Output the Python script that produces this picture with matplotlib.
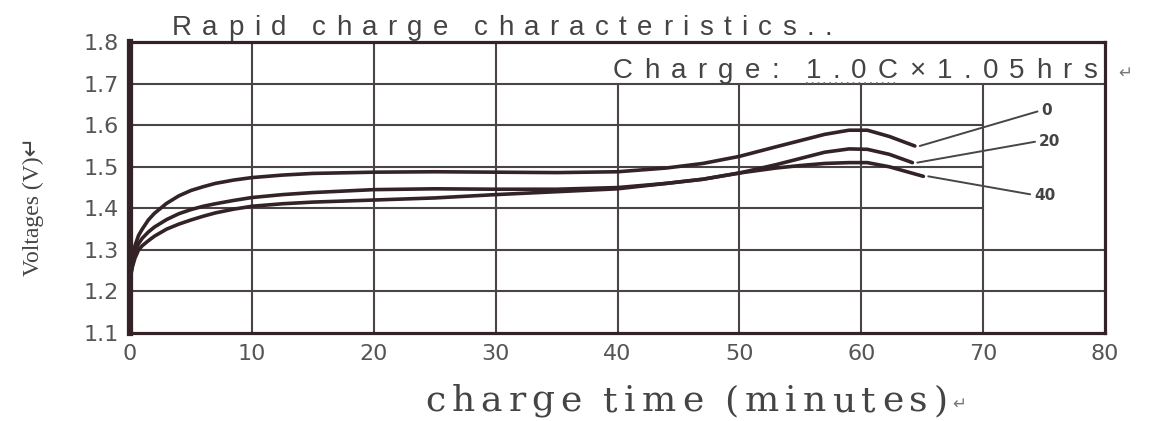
import numpy as np
import matplotlib
matplotlib.use('Agg')
import matplotlib.pyplot as plt
from matplotlib.lines import Line2D
from matplotlib.transforms import IdentityTransform

# Data (charge time in minutes, voltage in V)
time_0 = [0, 0.2, 0.4, 0.7, 1.0, 1.5, 2, 3, 4, 5, 6, 7, 8.5, 10, 12.5, 15, 20, 25, 30, 35, 40,
          44, 47, 50, 53, 55, 57, 59, 60.5, 62.3, 64.4]
volt_0 = [1.22, 1.27, 1.31, 1.335, 1.35, 1.372, 1.388, 1.412, 1.43, 1.443, 1.452, 1.46, 1.468, 1.474,
          1.48, 1.484, 1.487, 1.488, 1.487, 1.486, 1.488,
          1.497, 1.508, 1.525, 1.548, 1.563, 1.578, 1.588, 1.588, 1.573, 1.55]
time_20 = [0, 0.2, 0.4, 0.7, 1.0, 1.5, 2, 3, 4, 5, 6, 7, 8.5, 10, 12.5, 15, 20, 25, 30, 35, 40,
           44, 47, 50, 53, 55, 57, 59, 60.5, 62.3, 64.2]
volt_20 = [1.23, 1.265, 1.295, 1.315, 1.328, 1.343, 1.355, 1.373, 1.387, 1.397, 1.405, 1.411, 1.419,
           1.426, 1.433, 1.438, 1.445, 1.447, 1.446, 1.446, 1.45,
           1.46, 1.47, 1.485, 1.505, 1.52, 1.535, 1.543, 1.542, 1.53, 1.51]
time_40 = [0, 0.2, 0.4, 0.7, 1.0, 1.5, 2, 3, 4, 5, 6, 7, 8.5, 10, 12.5, 15, 20, 25, 30, 35, 40,
           44, 47, 50, 53, 55, 57, 59, 60.5, 62.3, 65.1]
volt_40 = [1.24, 1.26, 1.28, 1.30, 1.31, 1.322, 1.333, 1.35, 1.362, 1.372, 1.381, 1.389, 1.398,
           1.405, 1.411, 1.415, 1.42, 1.425, 1.433, 1.44, 1.447,
           1.46, 1.47, 1.485, 1.497, 1.503, 1.508, 1.51, 1.51, 1.50, 1.477]
curve_names = ['0', '20', '40']

x_ticks = [0, 10, 20, 30, 40, 50, 60, 70, 80]
y_ticks = [1.1, 1.2, 1.3, 1.4, 1.5, 1.6, 1.7, 1.8]

INK = '#332326'
GRID = '#4a4446'
LABEL = '#555555'
W, H = 1151, 421

fig = plt.figure(figsize=(W / 100, H / 100), dpi=100)
ax = fig.add_axes([0.113, 0.209, 0.847, 0.691])
ax.set_xlim(0, 80)
ax.set_ylim(1.1, 1.8)

# grid: the top-right strip holds the "Charge" note, the last column is mostly open
for x in x_ticks[1:-1]:
    top = 1.8 if x < 40 else 1.7
    ax.vlines(x, 1.1, top, color=GRID, lw=1.5, zorder=1)
for y in y_ticks[1:-1]:
    right = 80 if y in (1.2, 1.3, 1.7) else 70
    ax.hlines(y, 0, right, color=GRID, lw=1.5, zorder=1)

for t, v in [(time_0, volt_0), (time_20, volt_20), (time_40, volt_40)]:
    ax.plot(t, v, color=INK, lw=2.6, solid_capstyle='round', zorder=3)

# leader lines to the curve labels
label_xy = [(74.8, 1.636), (74.6, 1.562), (74.2, 1.432)]
for name, t, v, pos in zip(curve_names, [time_0, time_20, time_40], [volt_0, volt_20, volt_40], label_xy):
    ax.annotate(name, xy=(t[-1] + 0.4, v[-1]), xytext=pos, ha='left', va='center',
                fontsize=11, fontweight='bold', color='#444444',
                arrowprops=dict(arrowstyle='-', color=GRID, lw=1.4, shrinkA=1, shrinkB=0,
                                relpos=(0, 0.5)))

for side in ['top', 'right', 'bottom']:
    ax.spines[side].set_linewidth(2.3)
    ax.spines[side].set_color(INK)
ax.spines['left'].set_linewidth(4.5)
ax.spines['left'].set_color(INK)

ax.set_xticks(x_ticks)
ax.set_yticks(y_ticks)
ax.set_xticklabels([str(x) for x in x_ticks])
ax.set_yticklabels(['%.1f' % y for y in y_ticks])
ax.tick_params(length=0, labelsize=16, labelcolor=LABEL, pad=8)

ax.set_ylabel('Voltages (V)\u21b5', family=['Liberation Serif', 'DejaVu Sans'],
              fontsize=17, color='#444444')
ax.yaxis.set_label_coords(-0.088, 0.435)


def spaced_text(x0, x1, y, s, space_em, **kw):
    # the scan uses wide letter spacing: spread the glyphs evenly from x0 to x1 (pixels)
    r = fig.canvas.get_renderer()
    texts = [None if ch == ' ' else
             fig.text(0, H - y, ch, transform=IdentityTransform(), va='baseline', **kw)
             for ch in s]
    widths = [0 if t is None else t.get_window_extent(r).width for t in texts]
    space_w = space_em * kw['fontsize'] * 100 / 72
    n_space = s.count(' ')
    gap = (x1 - x0 - sum(widths) - n_space * space_w) / (len(s) - 1)
    px = x0
    for t, w in zip(texts, widths):
        if t is None:
            px += space_w + gap
            continue
        t.set_x(px)
        px += w + gap
    return [t for t in texts if t is not None]


sans = ['Liberation Sans', 'DejaVu Sans']
spaced_text(172, 832, 35, 'Rapid charge characteristics..', 0.18,
            family=sans, fontsize=20, color='#444444')
note = spaced_text(613, 1097, 78, 'Charge: 1.0C\u00d71.05hrs', 0.15,
                   family=sans, fontsize=20, color='#444444')
fig.text(1118, H - 78, '\u21b5', transform=IdentityTransform(), family=['DejaVu Sans'], fontsize=12,
         color='#777777', va='baseline')

# dotted underline below "1.0C"
r = fig.canvas.get_renderer()
u0 = note[7].get_window_extent(r).x0
u1 = note[10].get_window_extent(r).x1
fig.add_artist(Line2D([u0, u1], [H - 83, H - 83], transform=IdentityTransform(),
                      color='#666666', lw=1.2, ls=(0, (1, 2.5))))

spaced_text(425, 948, 411, 'charge time (minutes)', 0.25, family=['DejaVu Serif', 'DejaVu Sans'],
            fontsize=26, color='#444444')
fig.text(952, H - 409, '\u21b5', transform=IdentityTransform(), family=['DejaVu Sans'], fontsize=12,
         color='#777777', va='baseline')

fig.savefig('out.png', dpi=100, facecolor='white')
